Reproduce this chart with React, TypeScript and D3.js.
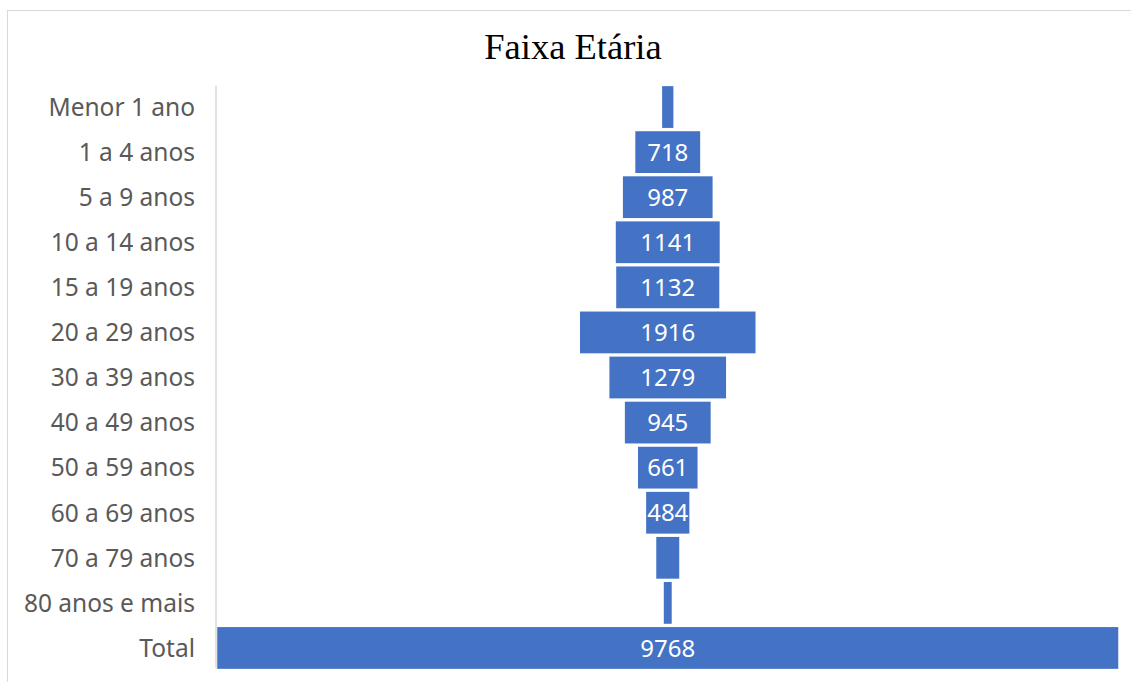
import React from 'react';
import * as d3 from 'd3';

// Faixa Etária - funnel chart
const categories = [
  'Menor 1 ano',
  '1 a 4 anos',
  '5 a 9 anos',
  '10 a 14 anos',
  '15 a 19 anos',
  '20 a 29 anos',
  '30 a 39 anos',
  '40 a 49 anos',
  '50 a 59 anos',
  '60 a 69 anos',
  '70 a 79 anos',
  '80 anos e mais',
  'Total',
];
const values = [138, 718, 987, 1141, 1132, 1916, 1279, 945, 661, 484, 265, 102, 9768];
// labels Excel hid on the narrow bars
const showLabel = [false, true, true, true, true, true, true, true, true, true, false, false, true];

const title = 'Faixa Etária';

const App = () => {
  const width = 1131;
  const height = 682;
  const margin = { top: 84.5, right: 12, bottom: 11.5, left: 216.5 };

  const plotW = width - margin.left - margin.right;

  const x = d3
    .scaleLinear()
    .domain([0, d3.max(values) as number])
    .range([0, plotW]);
  const y = d3
    .scaleBand<string>()
    .domain(categories)
    .range([margin.top, height - margin.bottom])
    .paddingInner(0.04)
    .paddingOuter(0.02);

  const cx = margin.left + plotW / 2;
  const labelFont = '"Noto Sans", "Open Sans", sans-serif';

  return (
    <svg
      width={width}
      height={height}
      style={{ position: 'absolute', left: 0, top: 0, background: '#fff' }}
    >
      {/* chart frame */}
      <line x1={8} x2={width} y1={10.5} y2={10.5} stroke="#d9d9d9" />
      <line x1={7.5} x2={7.5} y1={10} y2={height} stroke="#d9d9d9" />

      <text
        x={573}
        y={59}
        textAnchor="middle"
        fontFamily='"Liberation Serif", "Times New Roman", serif'
        fontSize={36.5}
        fill="#000"
      >
        {title}
      </text>

      {/* bars */}
      {values.map((v, i) => {
        const w = x(v);
        const yy = y(categories[i]) as number;
        return (
          <g key={categories[i]}>
            <rect
              x={cx - w / 2}
              y={yy}
              width={w}
              height={y.bandwidth()}
              fill="#4472C4"
              stroke="#fff"
              strokeWidth={1.5}
            />
            {showLabel[i] && (
              <text
                x={cx}
                y={yy + y.bandwidth() / 2}
                dy="0.36em"
                textAnchor="middle"
                fontFamily={labelFont}
                fontSize={24}
                fill="#fff"
              >
                {v}
              </text>
            )}
          </g>
        );
      })}

      {/* category axis */}
      <line
        x1={margin.left - 0.5}
        x2={margin.left - 0.5}
        y1={margin.top + 1}
        y2={height - margin.bottom - 2}
        stroke="#d9d9d9"
        strokeWidth={1.5}
      />
      {categories.map((c) => (
        <text
          key={c}
          x={195}
          y={(y(c) as number) + y.bandwidth() / 2}
          dy="0.36em"
          textAnchor="end"
          fontFamily={labelFont}
          fontSize={24.5}
          fill="#595959"
        >
          {c}
        </text>
      ))}
    </svg>
  );
};

export default App;
